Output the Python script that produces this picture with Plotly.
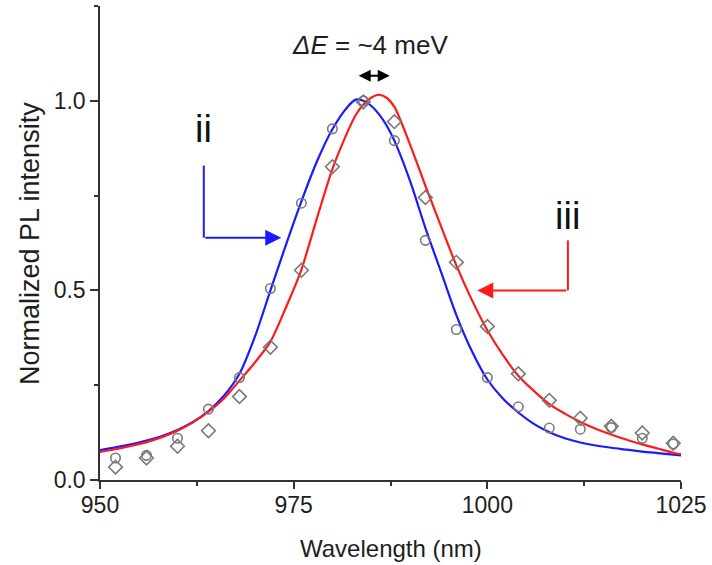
import plotly.graph_objects as go

# ---- data ----
wl_pts = [952, 956, 960, 964, 968, 972, 976, 980, 984, 988, 992, 996, 1000, 1004, 1008, 1012, 1016, 1020, 1024]
ii_pts = [0.058, 0.065, 0.11, 0.187, 0.27, 0.505, 0.73, 0.926, 1.0, 0.895, 0.632, 0.397, 0.27, 0.193, 0.137, 0.134, 0.138, 0.11, 0.095]
iii_pts = [0.034, 0.058, 0.089, 0.13, 0.22, 0.35, 0.553, 0.826, 0.997, 0.945, 0.745, 0.574, 0.405, 0.28, 0.21, 0.163, 0.142, 0.124, 0.097]

wl_fit = [950, 952, 954, 956, 958, 960, 962, 964, 966, 968, 970, 972, 974, 976, 978, 980, 982, 983, 984, 985, 986, 987,
          988, 990, 992, 994, 996, 998, 1000, 1002, 1004, 1006, 1008, 1010, 1012, 1014, 1016, 1018, 1020, 1022, 1024, 1025]
ii_fit = [0.079, 0.086, 0.094, 0.104, 0.116, 0.132, 0.153, 0.182, 0.222, 0.28, 0.378, 0.50, 0.62, 0.735, 0.84, 0.925, 0.985, 1.003, 1.0, 0.987, 0.965, 0.935,
          0.895, 0.79, 0.665, 0.55, 0.435, 0.34, 0.265, 0.215, 0.178, 0.148, 0.126, 0.11, 0.099, 0.091, 0.085, 0.08, 0.075, 0.071, 0.067, 0.065]
iii_fit = [0.074, 0.081, 0.09, 0.1, 0.113, 0.13, 0.152, 0.18, 0.215, 0.262, 0.31, 0.365, 0.455, 0.555, 0.69, 0.82, 0.92, 0.962, 0.99, 1.008, 1.016, 1.008,
           0.984, 0.886, 0.776, 0.67, 0.566, 0.475, 0.395, 0.33, 0.275, 0.235, 0.2, 0.175, 0.153, 0.135, 0.12, 0.106, 0.094, 0.083, 0.072, 0.068]

x_ticks = [950, 975, 1000, 1025]
y_ticks = [0.0, 0.5, 1.0]

BLUE = "#1a1aff"
RED = "#ff1a1a"
GRAY = "#7a7a7a"
AX = "#333333"
TXT = "#1e1e1e"
FONT = "Liberation Sans, Arial, sans-serif"

fig = go.Figure()
fig.add_trace(go.Scatter(x=wl_fit, y=ii_fit, mode="lines", line=dict(color=BLUE, width=2.2, shape="spline", smoothing=0.8), name="ii fit"))
fig.add_trace(go.Scatter(x=wl_fit, y=iii_fit, mode="lines", line=dict(color=RED, width=2.2, shape="spline", smoothing=0.8), name="iii fit"))
fig.add_trace(go.Scatter(x=wl_pts, y=ii_pts, mode="markers", name="ii",
                         marker=dict(symbol="circle-open", size=9.5, color=GRAY, line=dict(width=1.6, color=GRAY))))
fig.add_trace(go.Scatter(x=wl_pts, y=iii_pts, mode="markers", name="iii",
                         marker=dict(symbol="diamond-open", size=10.5, color=GRAY, line=dict(width=1.6, color=GRAY))))

fig.update_layout(
    width=712, height=565,
    margin=dict(l=100, r=31, t=6, b=85),
    plot_bgcolor="white", paper_bgcolor="white",
    showlegend=False,
    font=dict(family=FONT, color=TXT, size=23),
)
fig.update_xaxes(
    range=[950, 1025], tickvals=x_ticks, ticktext=[str(v) for v in x_ticks],
    showgrid=False, zeroline=False, showline=True, linecolor=AX, linewidth=1.5,
    ticks="outside", ticklen=7, tickwidth=1.5, tickcolor=AX,
    minor=dict(dtick=12.5, tick0=950, ticks="outside", ticklen=4, tickwidth=1.5, tickcolor=AX, showgrid=False),
    tickfont=dict(size=23, family=FONT, color=TXT),
    ticklabelstandoff=-3,
)
fig.update_yaxes(
    range=[0, 1.25], tickvals=y_ticks, ticktext=["%.1f" % v for v in y_ticks],
    showgrid=False, zeroline=False, showline=True, linecolor=AX, linewidth=1.5,
    ticks="outside", ticklen=8, tickwidth=1.5, tickcolor=AX,
    minor=dict(dtick=0.25, tick0=0, ticks="outside", ticklen=4, tickwidth=1.5, tickcolor=AX, showgrid=False),
    tickfont=dict(size=23, family=FONT, color=TXT),
)

# axis titles
fig.add_annotation(text="Wavelength (nm)", xref="paper", yref="paper", x=0.5, y=-0.1435,
                   xanchor="center", yanchor="middle", showarrow=False, font=dict(size=24, family=FONT, color=TXT))
fig.add_annotation(text="Normalized PL intensity", xref="paper", yref="paper", x=-0.1205, y=0.5,
                   xanchor="center", yanchor="middle", textangle=-90, showarrow=False,
                   font=dict(size=27, family=FONT, color=TXT))

# labels
fig.add_annotation(text="ii", x=963.4, y=0.926, xref="x", yref="y", showarrow=False,
                   font=dict(size=38, family=FONT, color="#111111"))
fig.add_annotation(text="iii", x=1010.4, y=0.697, xref="x", yref="y", showarrow=False,
                   font=dict(size=38, family=FONT, color="#111111"))
fig.add_annotation(text="<i>ΔE</i> = ~4 meV", x=984.85, y=1.147, xref="x", yref="y", showarrow=False,
                   font=dict(size=26, family=FONT, color=TXT))

# blue bent arrow
fig.add_shape(type="line", x0=963.4, y0=0.829, x1=963.4, y1=0.639, xref="x", yref="y",
              line=dict(color=BLUE, width=2))
fig.add_annotation(text="", x=973.4, y=0.639, ax=963.4, ay=0.639, xref="x", yref="y", axref="x", ayref="y",
                   showarrow=True, arrowhead=2, arrowsize=1.6, arrowwidth=2, arrowcolor=BLUE, standoff=0, startstandoff=0)
# red bent arrow
fig.add_shape(type="line", x0=1010.4, y0=0.632, x1=1010.4, y1=0.5, xref="x", yref="y",
              line=dict(color=RED, width=2))
fig.add_annotation(text="", x=998.7, y=0.5, ax=1010.4, ay=0.5, xref="x", yref="y", axref="x", ayref="y",
                   showarrow=True, arrowhead=2, arrowsize=1.6, arrowwidth=2, arrowcolor=RED, standoff=0, startstandoff=0)
# double arrow for delta E
fig.add_annotation(text="", x=987.4, y=1.066, ax=983.2, ay=1.066, xref="x", yref="y", axref="x", ayref="y",
                   showarrow=True, arrowside="end+start", arrowhead=2, startarrowhead=2,
                   arrowsize=1.2, startarrowsize=1.2, arrowwidth=2, arrowcolor="black", standoff=0, startstandoff=0)

fig.write_html("out.html", config={"displayModeBar": False},
               post_script="document.body.style.margin='0';")
